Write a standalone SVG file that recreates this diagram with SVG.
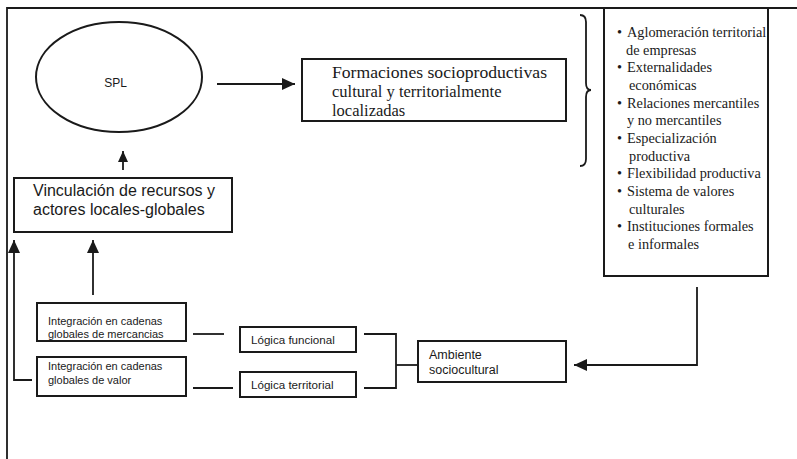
<svg xmlns="http://www.w3.org/2000/svg" width="797" height="459" viewBox="0 0 797 459">
<style>
.box{fill:#fff;stroke:#1a1a1a;stroke-width:2}
.ln{fill:none;stroke:#1a1a1a;stroke-width:1.8}
.sans{font-family:"Liberation Sans",Arial,sans-serif;fill:#1a1a1a}
.serif{font-family:"Liberation Serif","Times New Roman",serif;fill:#1a1a1a}
.bul{font-family:"Liberation Serif","Times New Roman",serif;fill:#1a1a1a;font-size:14.3px}
</style>
<defs>
<marker id="ah" markerUnits="userSpaceOnUse" markerWidth="14" markerHeight="14" viewBox="0 0 14 14" refX="13" refY="7" orient="auto">
<path d="M0,1 L13,7 L0,13 Z" fill="#1a1a1a"/>
</marker>
<marker id="ahs" markerUnits="userSpaceOnUse" markerWidth="12" markerHeight="12" viewBox="0 0 12 12" refX="11" refY="6" orient="auto">
<path d="M0,1 L11,6 L0,11 Z" fill="#1a1a1a"/>
</marker>
</defs>
<rect width="797" height="459" fill="#fff"/>
<path class="ln" d="M797,8 H7 V459" stroke-width="1.6"/>

<g id="spl">
<ellipse class="box" cx="119" cy="77" rx="83" ry="55"/>
<text class="sans" x="115.5" y="87" font-size="12" text-anchor="middle">SPL</text>
</g>

<g id="formaciones">
<rect class="box" x="302" y="59" width="264" height="62"/>
<text class="serif" font-size="16.5" x="332" y="78" textLength="215" lengthAdjust="spacingAndGlyphs">Formaciones socioproductivas</text>
<text class="serif" font-size="16.5" x="332" y="97">cultural y territorialmente</text>
<text class="serif" font-size="16.5" x="332" y="116">localizadas</text>
</g>

<g id="llave">
<path class="ln" d="M580,15 Q586,15 586,22 L586,83 Q586,90 591,90 Q586,90 586,97 L586,159 Q586,166 580,166"/>
</g>

<g id="caracteristicas">
<rect class="box" x="604" y="8" width="164" height="268"/>
<g class="bul">
<text x="617" y="37">•</text><text x="627" y="37">Aglomeración territorial</text>
<text x="626" y="54.7">de empresas</text>
<text x="617" y="72.3">•</text><text x="627" y="72.3">Externalidades</text>
<text x="629" y="90">económicas</text>
<text x="617" y="107.7">•</text><text x="627" y="107.7">Relaciones mercantiles</text>
<text x="627" y="125.3">y no mercantiles</text>
<text x="617" y="143">•</text><text x="627" y="143">Especialización</text>
<text x="629" y="160.7">productiva</text>
<text x="617" y="178.3">•</text><text x="627" y="178.3">Flexibilidad productiva</text>
<text x="617" y="196">•</text><text x="627" y="196">Sistema de valores</text>
<text x="629" y="213.7">culturales</text>
<text x="617" y="231.3">•</text><text x="627" y="231.3">Instituciones formales</text>
<text x="628" y="249">e informales</text>
</g>
</g>

<g id="vinculacion">
<rect class="box" x="14" y="178" width="218" height="54"/>
<text class="sans" font-size="16" x="33" y="196">Vinculación de recursos y</text>
<text class="sans" font-size="16" x="33" y="215">actores locales-globales</text>
</g>

<g id="mercancias">
<rect class="box" x="37" y="303" width="149" height="38"/>
<text class="sans" font-size="11"><tspan x="48" y="325">Integración en cadenas</tspan><tspan x="48" y="337.5">globales de mercancias</tspan></text>
</g>

<g id="valor">
<rect class="box" x="37" y="357" width="149" height="39"/>
<text class="sans" font-size="11"><tspan x="48" y="370">Integración en cadenas</tspan><tspan x="48" y="384">globales de valor</tspan></text>
</g>

<g id="funcional">
<rect class="box" x="240" y="327" width="116" height="25"/>
<text class="sans" font-size="11.6" x="251" y="344">Lógica funcional</text>
</g>

<g id="territorial">
<rect class="box" x="240" y="372" width="116" height="25"/>
<text class="sans" font-size="11.6" x="251" y="389">Lógica territorial</text>
</g>

<g id="ambiente">
<rect class="box" x="418" y="341" width="148" height="41"/>
<text class="sans" font-size="12.5"><tspan x="429" y="359">Ambiente</tspan><tspan x="429" y="374">sociocultural</tspan></text>
</g>

<g id="conectores">
<line class="ln" x1="217" y1="84" x2="295" y2="84" marker-end="url(#ah)"/>
<line class="ln" x1="123" y1="170" x2="123" y2="151" marker-end="url(#ahs)"/>
<line class="ln" x1="93" y1="295" x2="93" y2="240" marker-end="url(#ah)"/>
<polyline class="ln" points="32,380 14,380 14,240" marker-end="url(#ah)"/>
<line class="ln" x1="193" y1="334" x2="224" y2="334"/>
<line class="ln" x1="193" y1="388" x2="233" y2="388"/>
<polyline class="ln" points="364,334 396,334 396,388 364,388"/>
<line class="ln" x1="396" y1="365" x2="418" y2="365"/>
<polyline class="ln" points="697,287 697,365 574,365" marker-end="url(#ah)"/>
</g>
</svg>
